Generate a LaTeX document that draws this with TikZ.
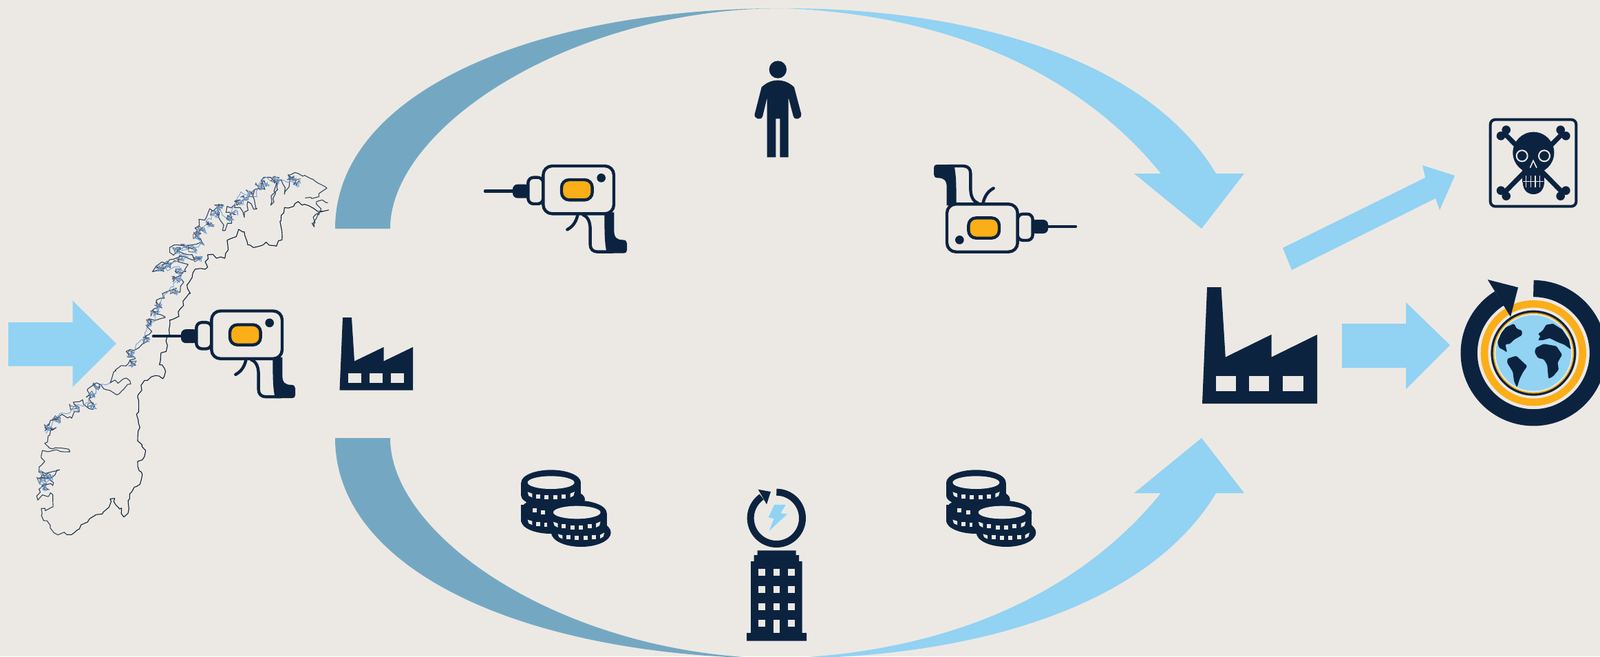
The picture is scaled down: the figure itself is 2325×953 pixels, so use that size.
\documentclass[tikz,border=0pt]{standalone}
\usetikzlibrary{decorations.pathmorphing}
\definecolor{bgc}{HTML}{ECE9E4}
\definecolor{navy}{HTML}{0C2340}
\definecolor{lblue}{HTML}{92D2F2}
\definecolor{steel}{HTML}{74A8C2}
\definecolor{amber}{HTML}{FBAE17}
\definecolor{mapb}{HTML}{6F9FD8}
\tikzset{
  ink/.style={draw=navy,line width=4.4pt,line cap=round,line join=round},
  solid ink/.style={fill=navy,draw=none},
  hole/.style={fill=bgc,draw=none},
  coast/.style={draw=navy!90!black,line width=1.1pt,line join=round,decorate,decoration={random steps,segment length=6pt,amplitude=3pt}},
  isle/.style={draw=navy!85!white,line width=1.1pt,line join=round,decorate,decoration={random steps,segment length=6pt,amplitude=4pt}},
  isleb/.style={draw=mapb,line width=.9pt,line join=round,decorate,decoration={random steps,segment length=6pt,amplitude=4pt}},
  blob/.style={draw=navy!75!white,line width=.8pt,line join=round},
  blobb/.style={draw=mapb,line width=.8pt,line join=round},
}
\newcommand{\drillicon}{%
  \draw[ink] (45,173) -- (170,173);
  \draw[ink] (472,276) .. controls (495,285) and (503,310) .. (503,340) -- (503,405) .. controls (503,425) and (515,437) .. (535,437) -- (600,437);
  \path[solid ink] (567,265) -- (607,265) -- (607,345) .. controls (607,375) and (620,385) .. (645,385) .. controls (658,385) and (663,392) .. (663,400) -- (663,430) .. controls (663,438) and (658,443) .. (650,443) -- (575,443) .. controls (567,400) and (565,380) .. (565,265) -- cycle;
  \draw[ink] (448,278) .. controls (440,310) and (425,328) .. (403,340);
  \path[solid ink,rounded corners=7pt] (165,143) rectangle (240,203);
  \draw[ink,fill=bgc,rounded corners=8pt] (232,113) rectangle (298,228);
  \draw[ink,fill=bgc,rounded corners=13pt] (298,63) rectangle (606,271);
  \draw[ink,fill=amber,rounded corners=11pt] (378,123) rectangle (512,211);
  \path[solid ink] (551,115) circle[radius=19];
}
\newcommand{\factoryicon}{%
  \path[solid ink] (0,105.7) -- (4.5,0) -- (17.5,0) -- (21.5,63.5) -- (64,43) -- (64,63.5) -- (106.5,43) -- (106.5,105.7) -- cycle;
  \path[hole] (12.5,80.5) rectangle (31.2,94.6);
  \path[hole] (43.5,80.5) rectangle (62,94.6);
  \path[hole] (74.3,80.5) rectangle (93.3,94.6);
}
\newcommand{\coinsquares}[1]{\foreach \qa/\qb in {#1}{\path[hole] (\qa-9,\qb-9) rectangle (\qa+9,\qb+9);}}
\newcommand{\coinicon}{%
  \path[solid ink] (182,92) ellipse[x radius=130,y radius=55];
  \path[solid ink] (52,92) rectangle (312,150);
  \path[solid ink] (182,150) ellipse[x radius=130,y radius=48];
  \path[solid ink] (200,165) ellipse[x radius=130,y radius=50];
  \path[solid ink] (52,190) rectangle (190,265);
  \path[solid ink] (182,258) ellipse[x radius=130,y radius=57];
  \path[solid ink] (182,200) ellipse[x radius=125,y radius=40];
  \coinsquares{127/153,163/156,201/156,238/153}
  \path[hole] (80,133) -- (100,140) -- (100,157) -- (85,150) -- cycle;
  \path[hole] (266,140) -- (285,132) -- (280,150) -- (266,157) -- cycle;
  \coinsquares{110/212,147/222,127/273,163/277}
  \path[hole] (80,254) -- (100,260) -- (100,277) -- (85,270) -- cycle;
  \path[solid ink] (295,225) ellipse[x radius=130,y radius=55];
  \path[solid ink] (165,225) rectangle (425,280);
  \path[solid ink] (295,280) ellipse[x radius=130,y radius=50];
  \path[solid ink] (313,310) ellipse[x radius=130,y radius=62];
  \coinsquares{238/283,276/288,313/288,350/283}
  \path[hole] (192,263) -- (212,270) -- (212,288) -- (197,280) -- cycle;
  \path[hole] (378,270) -- (398,262) -- (393,280) -- (378,288) -- cycle;
  \coinsquares{258/331,295/334,332/334,370/331}
  \path[hole] (212,316) -- (232,322) -- (232,338) -- (217,330) -- cycle;
  \path[hole] (396,320) -- (415,310) -- (410,328) -- (396,336) -- cycle;
  \path[hole] (182,92) ellipse[x radius=102,y radius=28];
  \path[hole] (295,222) ellipse[x radius=103,y radius=28];
}
\begin{document}
\begin{tikzpicture}[x=1pt,y=-1pt]
\useasboundingbox (0,0) rectangle (2325,953);
\clip (0,0) rectangle (2325,953);
\fill[bgc] (0,0) rectangle (2325,953);

% large curved flows
\path[fill=steel] (487,332) .. controls (487,135) and (775,12) .. (1138,12)
  .. controls (830,12) and (567,185) .. (567,332) -- cycle;
\path[fill=lblue] (1138,12) .. controls (1420,12) and (1670,90) .. (1767,252) -- (1808,252) -- (1746,332) -- (1648,252) -- (1687,252)
  .. controls (1580,120) and (1400,22) .. (1138,12) -- cycle;
\path[fill=steel] (487,636) .. controls (487,833) and (775,956) .. (1138,956)
  .. controls (830,956) and (567,783) .. (567,636) -- cycle;
\path[fill=lblue] (1138,956) .. controls (1420,956) and (1670,878) .. (1767,716) -- (1808,716) -- (1746,636) -- (1648,716) -- (1687,716)
  .. controls (1580,848) and (1400,946) .. (1138,956) -- cycle;

% straight arrows
\path[fill=lblue] (12,468) -- (105.5,468) -- (105.5,436.5) -- (169,499) -- (105.5,562) -- (105.5,531.5) -- (12,531.5) -- cycle;
\path[fill=lblue] (1950,470) -- (2043,470) -- (2043,439) -- (2107,501) -- (2043,565) -- (2043,534) -- (1950,534) -- cycle;
\path[fill=lblue] (1864,360) -- (2071,258) -- (2067,240) -- (2114,255) -- (2092,305) -- (2086,288) -- (1877,392) -- cycle;

% Norway
\begin{scope}[shift={(40,240)},xscale=1/3,yscale=.351]
  \path[coast] (170,1528) -- (215,1510) -- (265,1470) -- (300,1445) -- (330,1435) -- (355,1415) -- (360,1380) -- (380,1378) -- (385,1405) -- (410,1418) -- (420,1455) -- (438,1440) -- (445,1380) -- (455,1350) -- (490,1320) -- (497,1270) -- (480,1225) -- (510,1205) -- (515,1180) -- (480,1140) -- (490,1085) -- (475,1030) -- (485,990) -- (480,960) -- (510,890) -- (540,875) -- (590,883) -- (597,840) -- (575,825) -- (580,795) -- (610,745) -- (617,680) -- (620,640) -- (660,625) -- (665,595) -- (710,530) -- (695,495) -- (730,430) -- (775,430) -- (785,370) -- (860,385) -- (875,350) -- (870,310) -- (910,295) -- (920,265) -- (945,275) -- (970,330) -- (1010,335) -- (1040,318) -- (1085,335) -- (1110,290) -- (1105,230) -- (1120,175) -- (1160,170) -- (1180,150) -- (1250,180) -- (1290,190) -- (1313,185);
  \path[isle] (1310,155) -- (1260,150) -- (1280,180) -- (1260,200) -- (1240,240) -- (1250,255) -- (1262,215) -- (1290,190);
  \path[isle] (1210,135) -- (1270,130) -- (1305,95) -- (1260,70) -- (1200,45) -- (1165,30) -- (1135,40) -- (1140,90) -- (1120,120) -- (1100,60) -- (1065,150) -- (1060,165) -- (1085,70) -- (1060,50) -- (1020,60) -- (1035,100) -- (990,100) -- (1000,180) -- (960,150) -- (945,215) -- (905,160) -- (870,170) -- (890,240) -- (850,270) -- (830,170) -- (790,190) -- (730,260) -- (730,300) -- (770,330) -- (710,330) -- (620,340) -- (620,360) -- (700,370) -- (760,380) -- (700,385) -- (620,390) -- (545,440) -- (640,395) -- (700,410) -- (690,440) -- (630,460) -- (670,470) -- (665,525) -- (615,520) -- (580,550) -- (545,600) -- (600,630) -- (530,635) -- (530,700) -- (500,740) -- (430,770) -- (470,800) -- (440,820) -- (385,850) -- (360,900) -- (430,880) -- (450,905) -- (400,945) -- (350,930) -- (300,900) -- (260,930) -- (285,1010) -- (240,970) -- (200,980) -- (225,1020) -- (185,1040) -- (150,1030) -- (100,1055) -- (75,1085) -- (125,1085) -- (90,1120) -- (75,1150) -- (95,1170) -- (150,1170) -- (185,1185) -- (90,1185) -- (65,1180) -- (60,1210) -- (75,1225) -- (50,1270) -- (140,1260) -- (95,1300) -- (110,1325) -- (50,1340) -- (45,1385) -- (100,1355) -- (105,1415) -- (60,1420) -- (70,1470) -- (115,1520) -- (170,1528);
  \path[isleb] (1135,40) -- (1180,90) -- (1100,60) -- (1020,60) -- (1000,130) -- (930,110) -- (905,160) -- (880,230) -- (830,170) -- (790,220) -- (730,280) -- (770,330) -- (640,345) -- (700,380) -- (560,425) -- (670,430) -- (660,470) -- (580,570) -- (540,650) -- (510,720) -- (440,790);
  \path[isleb] (360,900) -- (300,920) -- (270,980) -- (200,1000) -- (110,1060) -- (80,1110);
  \path[isleb] (60,1260) -- (70,1300) -- (100,1290) -- (55,1340);
  \foreach \mx/\my in {1175/70,1150/50,1080/60,1035/75,1010/85,970/115,945/135,920/150,900/190,880/215,835/175,815/200,795/240,760/265,740/290,680/335,650/350,720/345,740/385,660/385,610/410,575/425,660/435,650/470,640/520,570/580,555/610,530/650,515/720,450/780,455/820,300/915,275/950,280/990,200/1000,125/1050,90/1085,75/1280,60/1305,90/1290,75/1330}{
    \path[blob] plot[samples at={1,...,9}] ({\mx+20*rand},{\my+16*rand}) -- cycle;
    \path[blobb] plot[samples at={1,...,7}] ({\mx+6+18*rand},{\my+5+14*rand}) -- cycle;
  }
\end{scope}

% drills
\begin{scope}[shift={(208,430.5)},scale=1/3]\drillicon\end{scope}
\begin{scope}[shift={(690,220)},scale=1/3]\drillicon\end{scope}
\begin{scope}[shift={(1578,386.7)},xscale=-1/3,yscale=-1/3]\drillicon\end{scope}

% factories
\begin{scope}[shift={(493.5,461)}]\factoryicon\end{scope}
\begin{scope}[shift={(1747,417)},xscale=1.57,yscale=1.6]\factoryicon\end{scope}

% person
\begin{scope}[shift={(1080,75)},scale=1/3]
  \path[solid ink] (151,78) circle[radius=38];
  \path[solid ink] (80,155) .. controls (100,135) and (125,125) .. (150,125) .. controls (177,125) and (202,135) .. (222,155) -- (253,272) .. controls (258,290) and (225,305) .. (218,280) -- (197,200) -- (197,460) -- (160,460) -- (160,292) -- (142,292) -- (142,460) -- (104,460) -- (104,200) -- (85,280) .. controls (78,305) and (44,290) .. (50,272) -- cycle;
\end{scope}

% coins
\begin{scope}[shift={(740,670)},scale=1/3]\coinicon\end{scope}
\begin{scope}[shift={(1357.7,670)},scale=1/3]\coinicon\end{scope}

% power building
\begin{scope}[shift={(1060,700)},scale=1/3]
  \draw[navy,line width=10pt] plot[domain=-90:235,samples=80] ({205+113*cos(\x)},{157+113*sin(\x)});
  \path[solid ink] (125,32) -- (180,42) -- (162,97) -- cycle;
  \path[fill=lblue,draw=white!70!lblue,line width=.6pt] (195,97) -- (248,97) -- (225,135) -- (255,138) -- (170,218) -- (192,160) -- (168,155) -- cycle;
  \path[solid ink] (122,298) -- (290,298) -- (290,318) -- (303,318) -- (303,345) -- (317,345) -- (317,657) -- (336,657) -- (336,692) -- (75,692) -- (75,657) -- (93,657) -- (93,345) -- (107,345) -- (107,318) -- (122,318) -- cycle;
  \foreach \wx in {126,191,256}{\foreach \wy in {378,452,527}{\path[hole] (\wx,\wy) rectangle ++(29,30);}}
  \path[hole] (126,601) rectangle ++(29,29);
  \path[hole] (256,601) rectangle ++(29,29);
  \path[hole] (191,601) rectangle (220,657);
\end{scope}

% poison sign
\begin{scope}[shift={(2130,150)},scale=1/3]
  \draw[navy,line width=4pt,rounded corners=7pt] (107,71) rectangle (481,449);
  \draw[navy,line width=7pt] (165,128) -- (425,392);
  \draw[navy,line width=7pt] (425,128) -- (165,392);
  \foreach \bx/\by in {176/116,153/142,413/116,436/142,153/380,176/404,436/380,413/404}{\path[solid ink] (\bx,\by) circle[radius=19];}
  \path[solid ink] (295,215) circle[radius=90];
  \path[solid ink] (247,290) rectangle (342,345);
  \path[solid ink] (248,345) .. controls (250,380) and (270,396) .. (295,396) .. controls (320,396) and (340,380) .. (342,345) -- cycle;
  \draw[bgc,line width=2pt] (245,229) circle[radius=24];
  \draw[bgc,line width=2pt] (342,229) circle[radius=24];
  \draw[bgc,line width=1.6pt] (280,281) -- (294,250) -- (309,281);
  \foreach \tx in {263,283,303,323}{\draw[bgc,line width=1.6pt] (\tx,315) -- (\tx,366);}
  \draw[bgc,line width=.7pt] (250,340) -- (340,340);
\end{scope}

% recycled globe
\begin{scope}[shift={(2100,390)},scale=1/3]
  \path[fill=amber] (385,368) circle[radius=230];
  \path[hole] (385,368) circle[radius=198];
  \path[solid ink] (385,368) circle[radius=186];
  \path[fill=amber] (385,368) circle[radius=176];
  \path[fill=white!75!lblue] (385,368) circle[radius=170];
  \path[fill=lblue] (385,368) circle[radius=165];
  \path[solid ink,rounded corners=1.5pt] (300,240) -- (312,262) -- (335,270) -- (335,290) -- (300,310) -- (282,328) -- (262,330) -- (270,365) -- (250,352) -- (235,345) -- (228,320) -- (245,280) -- (265,255) -- cycle;
  \path[solid ink,rounded corners=1.5pt] (272,392) -- (310,380) -- (358,425) -- (340,450) -- (325,480) -- (313,518) -- (300,490) -- (295,450) -- (270,410) -- cycle;
  \path[solid ink,rounded corners=1pt] (405,285) -- (425,270) -- (440,245) -- (470,240) -- (510,265) -- (540,310) -- (548,352) -- (520,332) -- (490,320) -- (455,303) -- (425,312) -- (405,312) -- (415,295) -- cycle;
  \path[solid ink,rounded corners=1.5pt] (390,365) -- (395,345) -- (430,328) -- (470,335) -- (485,338) -- (510,375) -- (490,410) -- (495,440) -- (470,470) -- (450,480) -- (445,420) -- (430,395) -- (405,390) -- cycle;
  \draw[navy,line width=24.3pt] plot[domain=-90:238,samples=120] ({385+281*cos(\x)},{368+281*sin(\x)});
  \path[solid ink] (185,48) -- (318,82) -- (285,210) -- cycle;
\end{scope}
\end{tikzpicture}
\end{document}
